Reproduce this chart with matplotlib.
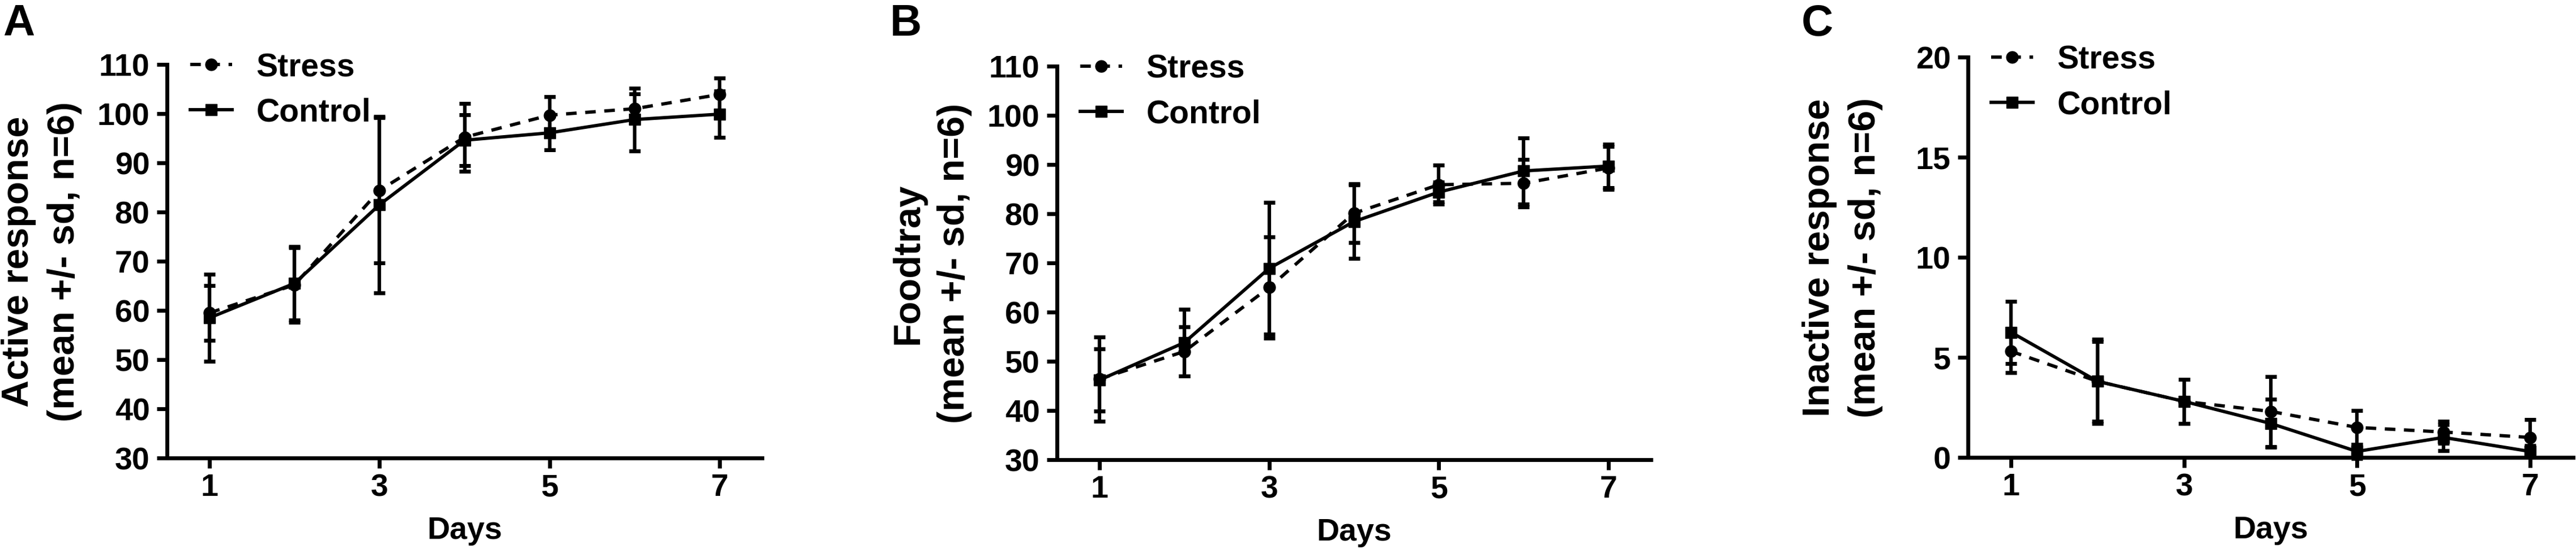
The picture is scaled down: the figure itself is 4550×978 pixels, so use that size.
import matplotlib
matplotlib.use("Agg")
import matplotlib.pyplot as plt

# ---- data (mean, sd) ----
days = [1, 2, 3, 4, 5, 6, 7]
day_ticks = [1, 3, 5, 7]

active_stress = [59.5, 65.2, 84.4, 95.2, 99.7, 101.0, 103.9]
active_stress_sd = [5.6, 7.6, 14.8, 6.9, 3.7, 3.0, 3.3]
active_control = [58.5, 65.5, 81.5, 94.6, 96.1, 98.8, 99.9]
active_control_sd = [8.8, 7.5, 17.9, 5.2, 3.4, 6.4, 4.7]

food_stress = [46.4, 52.0, 65.0, 80.1, 85.9, 86.2, 89.3]
food_stress_sd = [8.6, 5.0, 10.3, 6.0, 4.0, 4.8, 4.4]
food_control = [46.2, 53.8, 68.9, 78.4, 84.4, 88.7, 89.7]
food_control_sd = [6.3, 6.8, 13.4, 7.5, 2.0, 6.7, 4.4]

inactive_stress = [5.3, 3.8, 2.8, 2.3, 1.5, 1.27, 1.0]
inactive_stress_sd = [1.05, 2.0, 1.1, 1.75, 0.85, 0.55, 0.9]
inactive_control = [6.25, 3.8, 2.8, 1.7, 0.3, 1.0, 0.3]
inactive_control_sd = [1.55, 2.1, 1.1, 1.2, 0.35, 0.65, 0.3]

labels = ["Stress", "Control"]
ylabel_sub = "(mean +/- sd, n=6)"

W, H = 4550, 979
plt.rcParams['font.family'] = ['Liberation Sans', 'DejaVu Sans']
plt.rcParams['font.weight'] = 'bold'

fig = plt.figure(figsize=(W / 100, H / 100), dpi=100)


def fx(px):
    return px / W


def fy(py):
    return 1 - py / H


def panel(letter, left, right, top, bottom, stress, stress_sd, control, control_sd,
          ylim, yticks, ylabel, letter_x):
    ax = fig.add_axes([fx(left), fy(bottom), fx(right - left), (bottom - top) / H])

    e1 = ax.errorbar(days, stress, yerr=stress_sd, color='black', marker='o', ms=15,
                     lw=4.2, linestyle=(0, (3.2, 2.6)), elinewidth=4.5, capsize=7.2,
                     capthick=5, clip_on=False)
    e2 = ax.errorbar(days, control, yerr=control_sd, color='black', marker='s', ms=15,
                     lw=4.2, linestyle='-', elinewidth=4.5, capsize=7.2, capthick=5,
                     clip_on=False)

    ax.set_xlim(0.5, 7.5)
    ax.set_ylim(*ylim)
    ax.set_xticks(day_ticks)
    ax.set_yticks(yticks)
    for s in ['top', 'right']:
        ax.spines[s].set_visible(False)
    for s in ['left', 'bottom']:
        ax.spines[s].set_linewidth(5)
    ax.tick_params(width=5, length=13, direction='out', labelsize=40)
    ax.tick_params(axis='x', pad=6)
    ax.tick_params(axis='y', pad=9)

    ax.legend([e1.lines[0], e2.lines[0]], labels, loc='upper left',
              bbox_to_anchor=(fx(left + 41), fy(top - 22)),
              bbox_transform=fig.transFigure, frameon=False, fontsize=41,
              borderpad=0, borderaxespad=0, handlelength=1.3,
              handletextpad=0.75, labelspacing=0.45, numpoints=1)

    cy = fy((top + bottom) / 2)
    fig.text(fx(left - 245), cy, ylabel, rotation=90, rotation_mode='anchor',
             ha='center', va='baseline', fontsize=48, fontweight='bold')
    fig.text(fx(left - 164), cy, ylabel_sub, rotation=90, rotation_mode='anchor',
             ha='center', va='baseline', fontsize=48, fontweight='bold')
    fig.text(fx((left + right) / 2), fy(bottom + 142), "Days", ha='center',
             va='baseline', fontsize=40, fontweight='bold')
    fig.text(fx(letter_x), fy(63), letter, ha='left', va='baseline', fontsize=56,
             fontweight='bold')
    return ax


panel('A', 295, 1346, 115, 811, active_stress, active_stress_sd,
      active_control, active_control_sd, (30, 110), range(30, 111, 10),
      "Active response", 5)
panel('B', 1867, 2916, 118, 814, food_stress, food_stress_sd,
      food_control, food_control_sd, (30, 110), range(30, 111, 10),
      "Foodtray", 1572)
panel('C', 3476, 4545, 102, 810, inactive_stress, inactive_stress_sd,
      inactive_control, inactive_control_sd, (0, 20), range(0, 21, 5),
      "Inactive response", 3182)

fig.savefig("out.png", dpi=100)
